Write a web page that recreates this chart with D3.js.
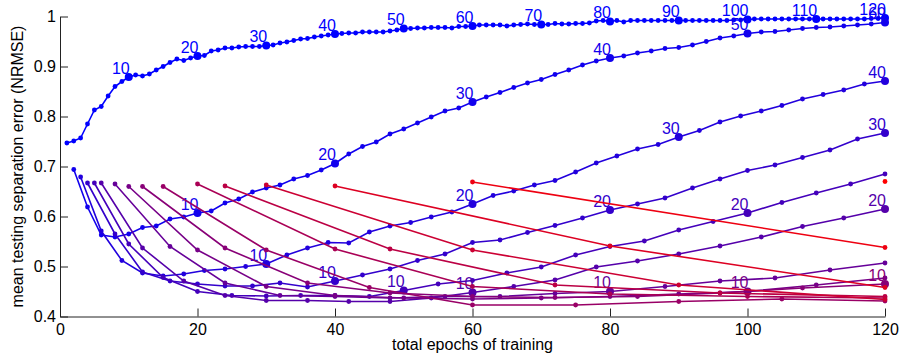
<!DOCTYPE html>
<html>
<head>
<meta charset="utf-8">
<script src="https://cdn.jsdelivr.net/npm/d3@7/dist/d3.min.js"></script>
<style>
  body { margin: 0; background: #fff; }
  svg { display: block; font-family: "Liberation Sans", Arial, sans-serif; }
  .axis text { font-size: 16px; fill: #000; }
  .axis path, .axis line { stroke: #222; }
</style>
</head>
<body>
<script>
// 画布尺寸
var w = 900;
var h = 356;

// 每个阶段的训练轮数（每条曲线一个）
var stepSizes = [1, 2, 3, 4, 5, 6, 8, 10, 12, 15, 20, 24, 30, 40, 60, 120];

// 各曲线的测试误差（第 k 个点对应 total epochs = step * k）
var errStep1 = [
  0.747, 0.751, 0.757, 0.785, 0.813, 0.820, 0.841, 0.860, 0.870, 0.879,
  0.883, 0.881, 0.885, 0.893, 0.900, 0.908, 0.915, 0.912, 0.917, 0.921,
  0.922, 0.931, 0.933, 0.937, 0.937, 0.939, 0.940, 0.940, 0.940, 0.942,
  0.943, 0.947, 0.949, 0.952, 0.955, 0.956, 0.959, 0.961, 0.963, 0.965,
  0.966, 0.967, 0.967, 0.969, 0.969, 0.969, 0.969, 0.971, 0.973, 0.976,
  0.976, 0.977, 0.977, 0.978, 0.978, 0.978, 0.977, 0.980, 0.980, 0.981,
  0.983, 0.983, 0.983, 0.983, 0.981, 0.983, 0.984, 0.985, 0.984, 0.984,
  0.984, 0.986, 0.985, 0.985, 0.986, 0.986, 0.987, 0.991, 0.992, 0.990,
  0.992, 0.989, 0.992, 0.992, 0.992, 0.992, 0.992, 0.992, 0.992, 0.992,
  0.992, 0.992, 0.992, 0.992, 0.992, 0.992, 0.992, 0.993, 0.993, 0.994,
  0.995, 0.995, 0.995, 0.995, 0.995, 0.995, 0.995, 0.995, 0.995, 0.995,
  0.995, 0.995, 0.995, 0.995, 0.995, 0.995, 0.995, 0.996, 0.996, 0.997
];
var errStep2 = [
  0.694, 0.619, 0.563, 0.559, 0.565, 0.578, 0.581, 0.595, 0.599, 0.607,
  0.611, 0.627, 0.635, 0.649, 0.657, 0.663, 0.675, 0.682, 0.693, 0.706,
  0.725, 0.740, 0.749, 0.765, 0.775, 0.787, 0.799, 0.811, 0.817, 0.829,
  0.839, 0.848, 0.858, 0.867, 0.874, 0.884, 0.893, 0.903, 0.911, 0.917,
  0.921, 0.927, 0.931, 0.936, 0.938, 0.943, 0.950, 0.957, 0.961, 0.966,
  0.969, 0.970, 0.973, 0.976, 0.978, 0.979, 0.981, 0.983, 0.985, 0.988
];
var errStep3 = [
  0.679, 0.571, 0.512, 0.487, 0.481, 0.485, 0.492, 0.495, 0.500, 0.505,
  0.523, 0.537, 0.548, 0.547, 0.569, 0.581, 0.588, 0.599, 0.609, 0.625,
  0.642, 0.651, 0.663, 0.672, 0.689, 0.707, 0.721, 0.735, 0.744, 0.759,
  0.772, 0.789, 0.801, 0.811, 0.822, 0.835, 0.844, 0.853, 0.865, 0.871
];
var errStep4 = [
  0.667, 0.565, 0.489, 0.471, 0.465, 0.461, 0.461, 0.467, 0.459, 0.471,
  0.483, 0.495, 0.512, 0.525, 0.548, 0.553, 0.568, 0.582, 0.597, 0.613,
  0.625, 0.637, 0.657, 0.675, 0.692, 0.703, 0.718, 0.733, 0.755, 0.767
];
var errStep5 = [
  0.667, 0.545, 0.478, 0.450, 0.442, 0.441, 0.442, 0.442, 0.440, 0.452,
  0.465, 0.472, 0.487, 0.499, 0.523, 0.540, 0.551, 0.573, 0.590, 0.607,
  0.628, 0.647, 0.665, 0.685
];
var errStep6 = [
  0.667, 0.537, 0.471, 0.442, 0.432, 0.432, 0.430, 0.430, 0.437, 0.448,
  0.460, 0.473, 0.499, 0.511, 0.525, 0.541, 0.559, 0.580, 0.597, 0.615
];
var errStep8 = [
  0.665, 0.540, 0.467, 0.442, 0.440, 0.437, 0.440, 0.440, 0.446, 0.450,
  0.460, 0.471, 0.477, 0.493, 0.507
];
var errStep10 = [0.660, 0.533, 0.460, 0.442, 0.437, 0.435, 0.437, 0.440, 0.445, 0.450, 0.463, 0.477];
var errStep12 = [0.660, 0.537, 0.467, 0.447, 0.440, 0.438, 0.440, 0.447, 0.457, 0.465];
var errStep15 = [0.660, 0.533, 0.458, 0.423, 0.423, 0.430, 0.435, 0.431];
var errStep20 = [0.665, 0.535, 0.460, 0.445, 0.440, 0.437];
var errStep24 = [0.661, 0.535, 0.463, 0.447, 0.440];
var errStep30 = [0.663, 0.533, 0.463, 0.434];
var errStep40 = [0.661, 0.541, 0.458];
var errStep60 = [0.669, 0.538];
var errStep120 = [0.670];

var allErrors = [errStep1, errStep2, errStep3, errStep4, errStep5, errStep6, errStep8,
  errStep10, errStep12, errStep15, errStep20, errStep24, errStep30, errStep40, errStep60, errStep120];

// 坐标轴刻度
var xTicks = [0, 20, 40, 60, 80, 100, 120];
var yTicks = [0.4, 0.5, 0.6, 0.7, 0.8, 0.9, 1];

// 比例尺
var xScale = d3.scaleLinear().domain([0, 120]).range([60, 885]);
var yScale = d3.scaleLinear().domain([0.4, 1]).range([316.5, 16.5]);

// 颜色：蓝 -> 红
var color = function (i) {
  return d3.interpolateRgb("rgb(0,0,255)", "rgb(255,0,0)")(i / (stepSizes.length - 1));
};

var svg = d3.select("body").append("svg").attr("width", w).attr("height", h);

// 构造每条曲线的数据点
var series = stepSizes.map(function (step, i) {
  return allErrors[i].map(function (v, k) {
    return { x: step * (k + 1), y: v, n: k + 1 };
  });
});

var line = d3.line()
  .x(function (d) { return xScale(d.x); })
  .y(function (d) { return yScale(d.y); });

var groups = svg.selectAll(".series")
  .data(series)
  .enter()
  .append("g")
  .attr("class", "series")
  .attr("fill", function (d, i) { return color(i); })
  .attr("stroke", function (d, i) { return color(i); });

groups.append("path")
  .attr("d", line)
  .attr("fill", "none")
  .attr("stroke-width", 1.6);

// 小圆点
groups.selectAll(".dot")
  .data(function (d) { return d; })
  .enter()
  .append("circle")
  .attr("class", "dot")
  .attr("cx", function (d) { return xScale(d.x); })
  .attr("cy", function (d) { return yScale(d.y); })
  .attr("r", function (d) { return d.n % 10 === 0 ? 4 : 2.4; })
  .attr("stroke", "none");

// 每 10 个阶段的标注
groups.selectAll(".lbl")
  .data(function (d) { return d.filter(function (p) { return p.n % 10 === 0; }); })
  .enter()
  .append("text")
  .attr("class", "lbl")
  .attr("x", function (d) { return xScale(d.x) + 1; })
  .attr("y", function (d) { return yScale(d.y) - 3.5; })
  .attr("text-anchor", "end")
  .attr("stroke", "none")
  .attr("font-size", "16px")
  .text(function (d) { return d.n; });

// 坐标轴
var xAxis = d3.axisBottom(xScale).tickValues(xTicks).tickSizeInner(-8).tickSizeOuter(0).tickPadding(7);
var yAxis = d3.axisLeft(yScale).tickValues(yTicks).tickSizeInner(-8).tickSizeOuter(0).tickPadding(4)
  .tickFormat(d3.format("~g"));

svg.append("g")
  .attr("class", "axis")
  .attr("transform", "translate(0," + yScale(0.4) + ")")
  .call(xAxis)
  .call(function (g) { g.selectAll("text").attr("font-size", null).attr("font-family", null); });

svg.append("g")
  .attr("class", "axis")
  .attr("transform", "translate(" + xScale(0) + ",0)")
  .call(yAxis)
  .call(function (g) { g.selectAll("text").attr("font-size", null).attr("font-family", null); });

svg.select(".axis").attr("font-size", null);
svg.selectAll(".axis").attr("font-family", null).attr("font-size", null);

// 坐标轴标题
svg.append("text")
  .attr("x", (xScale(0) + xScale(120)) / 2)
  .attr("y", 350)
  .attr("text-anchor", "middle")
  .attr("font-size", "16px")
  .text("total epochs of training");

svg.append("text")
  .attr("transform", "translate(23," + (yScale(0.4) + yScale(1)) / 2 + ") rotate(-90)")
  .attr("text-anchor", "middle")
  .attr("font-size", "16px")
  .text("mean testing separation error (NRMSE)");
</script>
</body>
</html>
